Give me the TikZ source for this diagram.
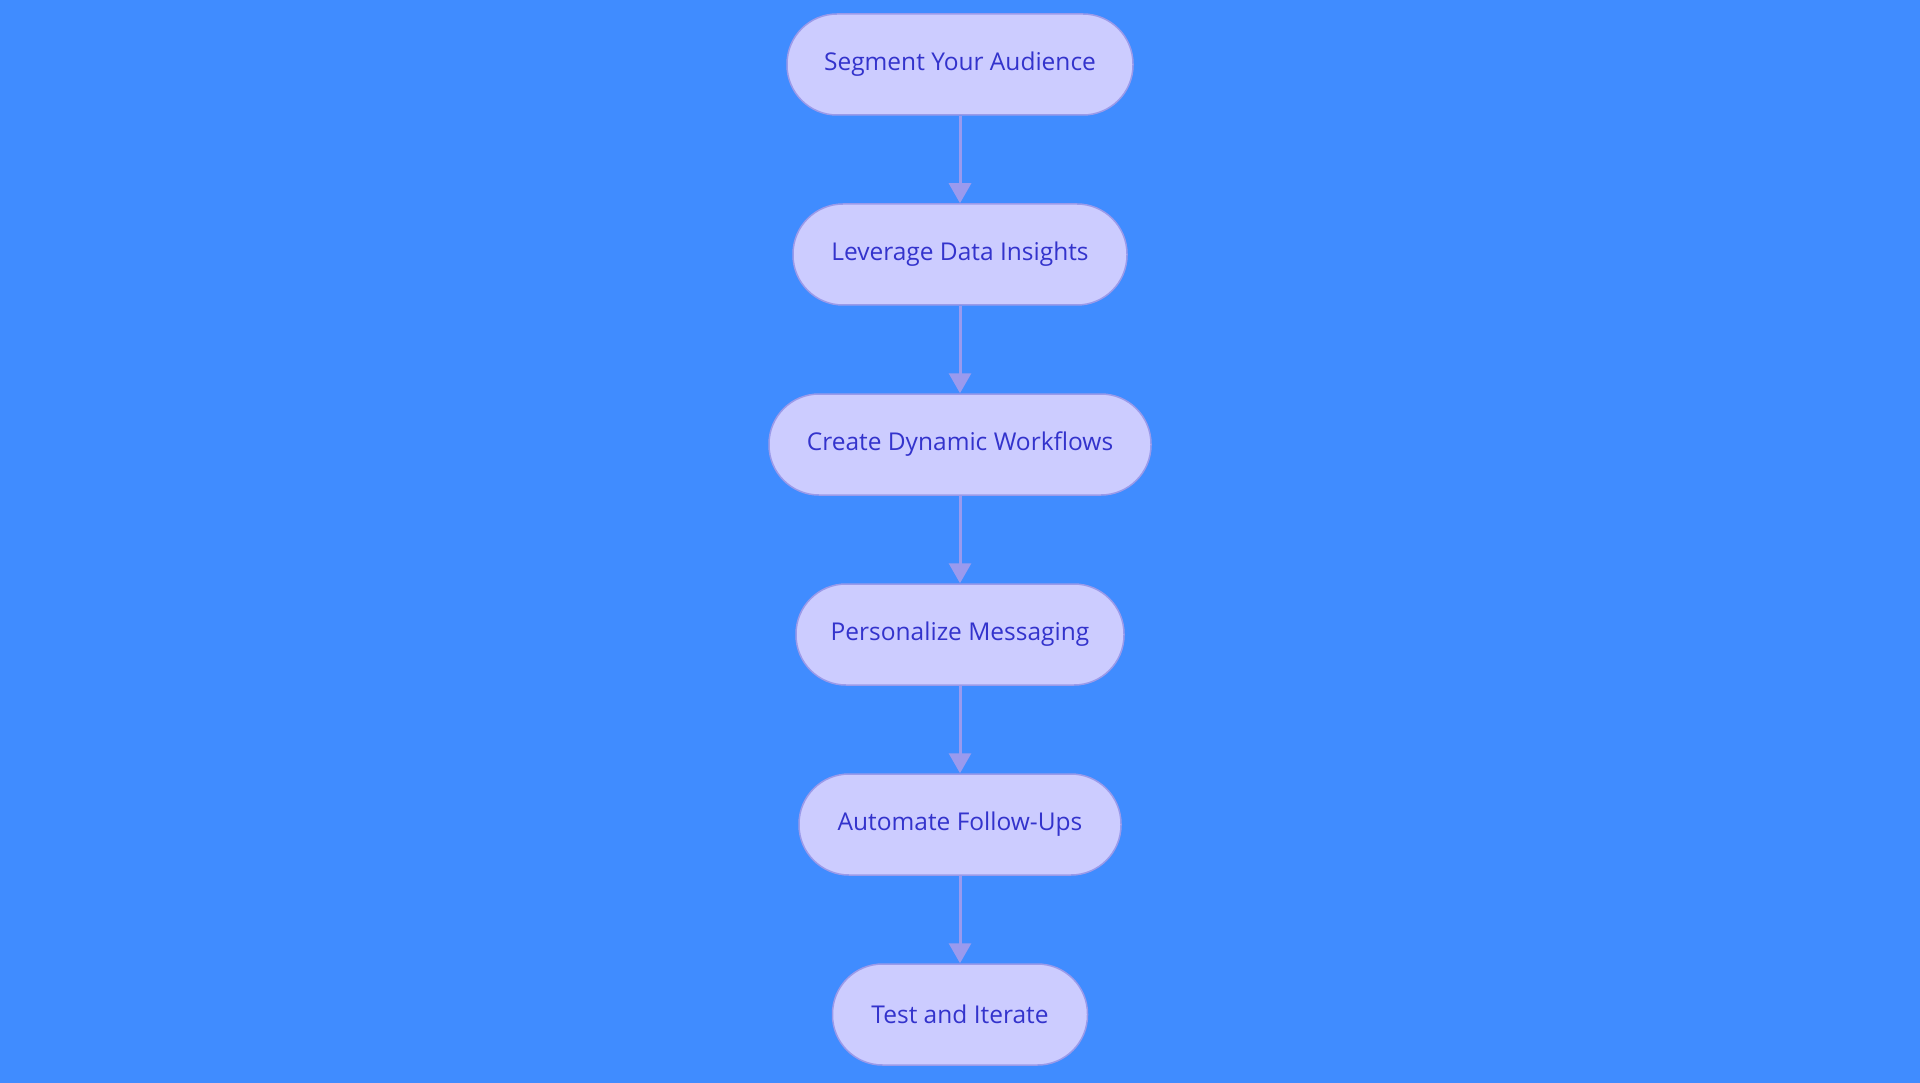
\documentclass[tikz,border=0pt]{standalone}
\usepackage{fontspec}
\setmainfont{Open Sans}
\usetikzlibrary{arrows.meta}
\definecolor{bg}{HTML}{408CFF}
\definecolor{nodefill}{HTML}{CCCCFF}
\definecolor{nodeline}{HTML}{9A9AEA}
\definecolor{nodetext}{HTML}{3333CC}
\definecolor{edge}{HTML}{9A9AEE}
\tikzset{
  x=1pt,y=-1pt,
  stepbox/.style={draw=nodeline, line width=1.5pt, fill=nodefill, rounded corners=50pt,
    minimum height=101pt, inner sep=0pt, text=nodetext, font=\fontsize{24.5}{29}\selectfont},
  flow/.style={draw=edge, line width=3pt, -{Triangle[width=22pt,length=20pt]}}
}
\begin{document}
\begin{tikzpicture}
\fill[bg] (0,0) rectangle (1920,1083);
\useasboundingbox (0,0) rectangle (1920,1083);
\node[stepbox, minimum width=346pt] (n1) at (960,64.5) {Segment Your Audience};
\node[stepbox, minimum width=334pt] (n2) at (960,254.5) {Leverage Data Insights};
\node[stepbox, minimum width=382pt] (n3) at (960,444.5) {Create Dynamic Workflows};
\node[stepbox, minimum width=328pt] (n4) at (960,634.5) {Personalize Messaging};
\node[stepbox, minimum width=322pt] (n5) at (960,824.5) {Automate Follow-Ups};
\node[stepbox, minimum width=255pt] (n6) at (960,1014.5) {Test and Iterate};
\draw[flow] (n1) -- (n2);
\draw[flow] (n2) -- (n3);
\draw[flow] (n3) -- (n4);
\draw[flow] (n4) -- (n5);
\draw[flow] (n5) -- (n6);
\end{tikzpicture}
\end{document}
